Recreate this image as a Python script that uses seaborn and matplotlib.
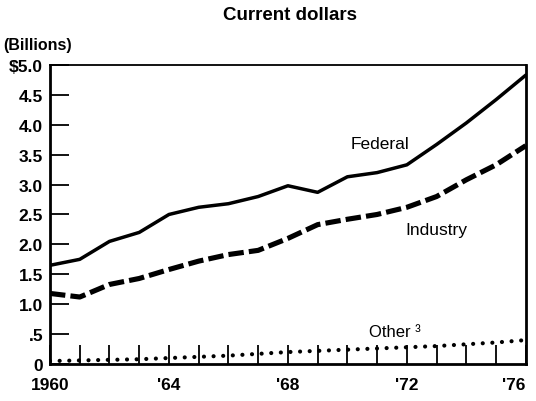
import matplotlib
matplotlib.use("Agg")
import matplotlib.pyplot as plt
import seaborn as sns
import pandas as pd

# R&D funding by source, current dollars (billions)
years = list(range(1960, 1977))
federal = [1.65, 1.75, 2.05, 2.2, 2.5, 2.62, 2.68, 2.8, 2.98, 2.87, 3.13, 3.2, 3.33,
           3.67, 4.03, 4.42, 4.83]
industry = [1.18, 1.12, 1.33, 1.43, 1.58, 1.72, 1.83, 1.9, 2.1, 2.33, 2.42, 2.5, 2.62,
            2.8, 3.08, 3.33, 3.65]
other = [0.05, 0.06, 0.07, 0.08, 0.1, 0.12, 0.14, 0.17, 0.2, 0.22, 0.24, 0.26, 0.28,
         0.3, 0.33, 0.36, 0.4]

y_ticks = [0, 0.5, 1.0, 1.5, 2.0, 2.5, 3.0, 3.5, 4.0, 4.5, 5.0]
y_tick_labels = ["0", ".5", "1.0", "1.5", "2.0", "2.5", "3.0", "3.5", "4.0", "4.5", "$5.0"]
x_tick_labels = {1960: "1960", 1964: "'64", 1968: "'68", 1972: "'72", 1976: "'76"}

sns.set_style("ticks")
plt.rcParams["font.family"] = ["Liberation Sans", "DejaVu Sans"]
plt.rcParams["text.color"] = "black"

df = pd.DataFrame({"year": years, "Federal": federal, "Industry": industry, "Other": other})

fig = plt.figure(figsize=(5.36, 4.02), dpi=100)
ax = fig.add_axes([0.0933, 0.092, 0.8877, 0.744])

sns.lineplot(data=df, x="year", y="Federal", ax=ax, color="black", lw=2.5)
sns.lineplot(data=df, x="year", y="Industry", ax=ax, color="black", lw=3.7)
ax.lines[-1].set_dashes([3.0, 1.0])
sns.lineplot(data=df, x="year", y="Other", ax=ax, color="black", lw=3.0)
ax.lines[-1].set_linestyle((0, (0.01, 2.3)))
ax.lines[-1].set_dash_capstyle("round")

ax.set_xlim(1960, 1976)
ax.set_ylim(0, 5)
ax.set_xticks(years)
ax.set_xticklabels([x_tick_labels.get(y, "") for y in years])
ax.set_yticks(y_ticks)
ax.set_yticklabels(y_tick_labels)
ax.tick_params(axis="both", direction="in", length=14, width=1.3, color="black",
               labelcolor="black", labelsize=12.5, pad=5)
ax.tick_params(axis="x", pad=9)
for lab in ax.get_xticklabels() + ax.get_yticklabels():
    lab.set_fontweight("bold")
ax.get_xticklabels()[-1].set_horizontalalignment("right")
ax.set_xlabel("")
ax.set_ylabel("")

for side in ["left", "bottom", "right"]:
    ax.spines[side].set_linewidth(2)
ax.spines["top"].set_linewidth(1.3)
for s in ax.spines.values():
    s.set_color("black")

ax.text(1971.1, 3.68, "Federal", fontsize=12.5, ha="center", va="center")
ax.text(1973.0, 2.25, "Industry", fontsize=12.5, ha="center", va="center")
ax.text(1971.6, 0.55, "Other \u00b3", fontsize=12, ha="center", va="center")

fig.text(0.541, 0.962, "Current dollars", fontsize=13.5, fontweight="bold",
         ha="center", va="center")
fig.text(0.071, 0.888, "(Billions)", fontsize=11.5, fontweight="bold",
         ha="center", va="center")

fig.savefig("out.png", dpi=100, facecolor="white")
